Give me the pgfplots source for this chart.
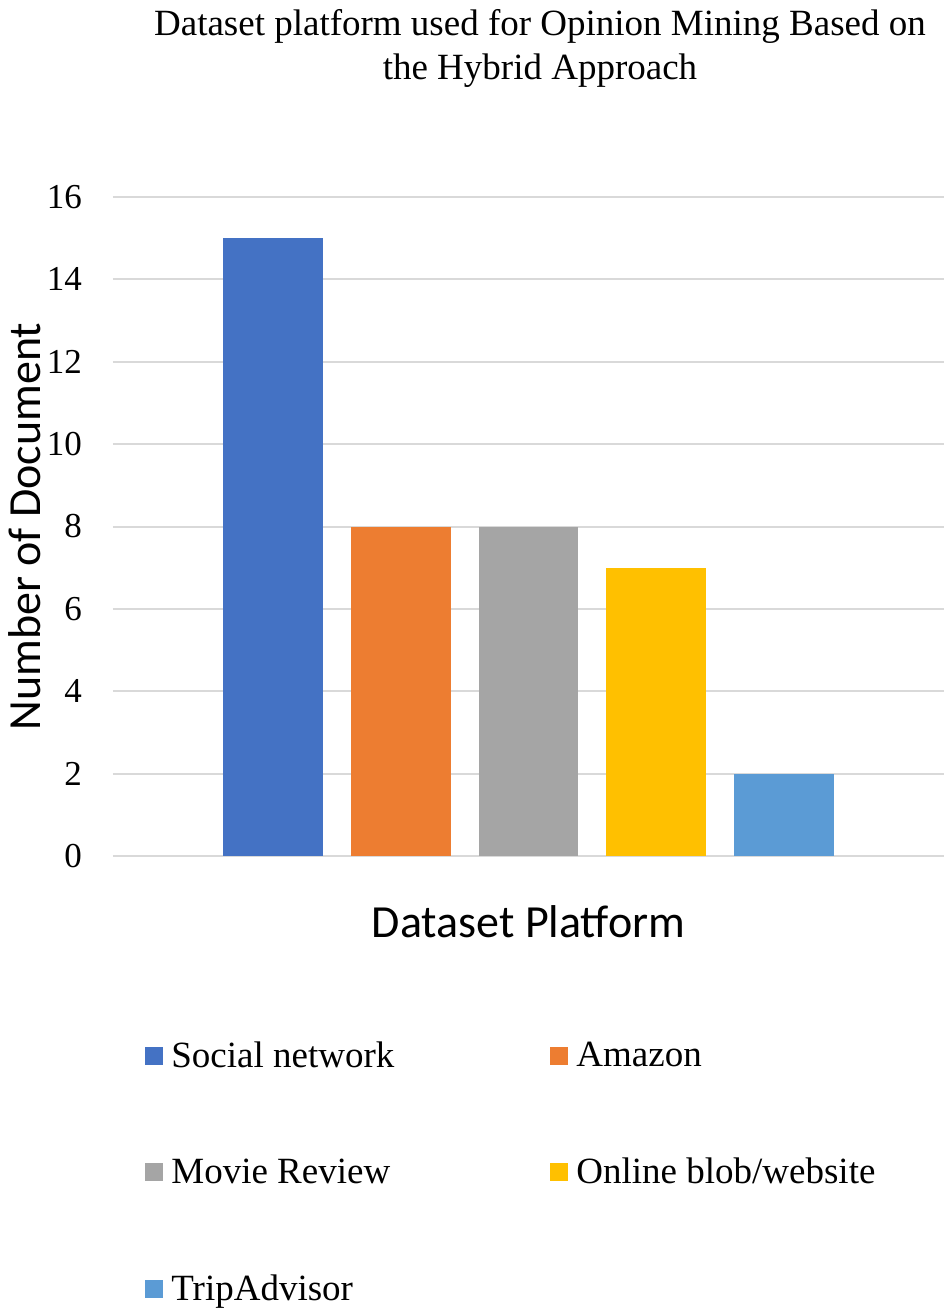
\documentclass[border=0pt]{standalone}
\usepackage{pgfplots}
\pgfplotsset{compat=1.18}
\usepackage{fontspec}
\setmainfont{Liberation Serif}
\newfontfamily\labfont{Carlito}
\definecolor{c1}{HTML}{4472C4}
\definecolor{c2}{HTML}{ED7D31}
\definecolor{c3}{HTML}{A5A5A5}
\definecolor{c4}{HTML}{FFC000}
\definecolor{c5}{HTML}{5B9BD5}
\definecolor{gridc}{HTML}{D9D9D9}
\pgfplotsset{
  mybar/.style={ybar, bar shift=0pt, bar width=0.78, draw=none, fill=#1,
    legend image code/.code={\fill[##1] (0pt,-4.5pt) rectangle (9pt,4.5pt);}},
}
\begin{document}
\begin{tikzpicture}
\path[use as bounding box] (-56.5pt,-228pt) rectangle (415.5pt,428pt);
\begin{axis}[
  name=ax,
  at={(0,0)}, anchor=south west,
  scale only axis, width=415.5pt, height=329.5pt,
  xmin=-1.25, xmax=5.25, ymin=0, ymax=16,
  ytick={0,2,...,16}, xtick=\empty,
  ymajorgrids, grid style={gridc, line width=1pt},
  axis line style={draw=none}, major tick length=0pt,
  /pgf/number format/assume math mode=true,
  yticklabel style={font=\fontsize{17.5}{20}\selectfont, anchor=east, xshift=-12pt},
  ylabel={Number of Document},
  ylabel style={font=\labfont\fontsize{23}{26}\selectfont, at={(axis description cs:-0.106,0.5)}, anchor=center},
  xlabel={Dataset Platform},
  xlabel style={font=\labfont\fontsize{23}{26}\selectfont, at={(axis description cs:0.5,-0.1)}, anchor=center},
  legend columns=2,
  legend cell align=left,
  legend style={draw=none, fill=none, inner sep=0pt, at={(axis description cs:0,0)}, anchor=north west,
    xshift=16pt, yshift=-90.5pt, row sep=40pt,
    font=\fontsize{18.5}{22}\selectfont,
    /tikz/every even column/.append style={column sep=0pt}},
]
\addplot[mybar=c1] coordinates {(0,15)};
\addlegendentry{\hspace{2pt}\makebox[187.5pt][l]{Social network}}
\addplot[mybar=c2] coordinates {(1,8)};
\addlegendentry{\hspace{2pt}Amazon}
\addplot[mybar=c3] coordinates {(2,8)};
\addlegendentry{\hspace{2pt}\makebox[187.5pt][l]{Movie Review}}
\addplot[mybar=c4] coordinates {(3,7)};
\addlegendentry{\hspace{2pt}Online blob/website}
\addplot[mybar=c5] coordinates {(4,2)};
\addlegendentry{\hspace{2pt}\makebox[187.5pt][l]{TripAdvisor}}
\end{axis}
\node[anchor=north, align=center, inner sep=0pt, font=\fontsize{18.5}{22}\selectfont]
  at ([xshift=213.5pt, yshift=94pt]ax.north west)
  {Dataset platform used for Opinion Mining Based on\\the Hybrid Approach};
\end{tikzpicture}
\end{document}
